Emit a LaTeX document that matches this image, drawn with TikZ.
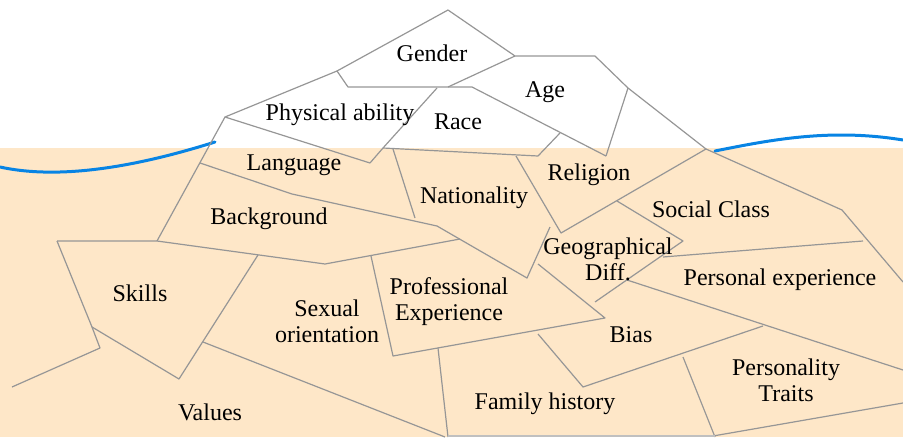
\documentclass[tikz,border=0pt]{standalone}
\usepackage{fontspec}
\setmainfont{Liberation Serif}
\definecolor{beige}{RGB}{254,231,200}
\definecolor{wave}{RGB}{8,132,228}
\definecolor{edge}{RGB}{150,150,150}
\tikzset{
  seg/.style={draw=edge, line width=1.2pt, line join=round},
  lbl/.style={font=\fontsize{24}{26}\selectfont, align=center, inner sep=0pt, text=black},
  sea/.style={draw=wave, line width=3pt, line cap=round}
}
\begin{document}
\begin{tikzpicture}[x=1pt,y=-1pt]
\useasboundingbox (0,0) rectangle (903,437);
\fill[beige] (0,148) rectangle (903,437);
% coordinates
\coordinate (A) at (448,10);
\coordinate (B) at (337,71);
\coordinate (C) at (515,56);
\coordinate (D) at (348,87);
\coordinate (E) at (437,88);
\coordinate (F) at (448,87);
\coordinate (G) at (472,87);
\coordinate (H) at (595,56);
\coordinate (I) at (628,88);
\coordinate (J) at (606,156);
\coordinate (K) at (706,149);
\coordinate (L) at (560,133);
\coordinate (M) at (538,156);
\coordinate (N) at (383,148);
\coordinate (O) at (370,163);
\coordinate (P) at (225,117);
\coordinate (Q) at (157,241);
\coordinate (R) at (200,163);
\coordinate (S) at (292,194);
\coordinate (T) at (437,226);
\coordinate (U) at (527,278);
\coordinate (V) at (550,227);
\coordinate (W) at (561,233);
\coordinate (X) at (842,210);
\coordinate (Y) at (617,201);
\coordinate (Z) at (683,241);
\coordinate (AA) at (595,302);
\coordinate (BB) at (325,264);
\coordinate (CC) at (460,239);
\coordinate (DD) at (605,318);
\coordinate (EE) at (393,356);
\coordinate (FF) at (371,256);
\coordinate (GG) at (92,327);
\coordinate (HH) at (100,348);
\coordinate (II) at (179,379);
\coordinate (JJ) at (258,255);
\coordinate (SK) at (57,241);
% waves
\draw[sea] (0,167) .. controls (50,178) and (120,172) .. (215,142);
\draw[sea] (715,151) .. controls (770,140) and (830,128) .. (903,140);
% top (white) pieces
\draw[seg] (B) -- (A) -- (C) -- (H) -- (I) -- (K);
\draw[seg] (B) -- (D) -- (G) -- (J);
\draw[seg] (C) -- (F);
\draw[seg] (I) -- (J);
\draw[seg] (L) -- (M) -- (N);
\draw[seg] (E) -- (N) -- (O);
\draw[seg] (B) -- (P) -- (O);
\draw[seg] (P) -- (Q);
% underwater pieces
\draw[seg] (R) -- (S) -- (T) -- (U) -- (V);
\draw[seg] (393,149) -- (415,218);
\draw[seg] (516,156) -- (W) -- (K) -- (X) -- (903,282);
\draw[seg] (Y) -- (Z) -- (AA);
\draw[seg] (663,257) -- (863,241);
\draw[seg] (SK) -- (Q) -- (BB) -- (CC);
\draw[seg] (538,264) -- (DD) -- (EE) -- (FF);
\draw[seg] (SK) -- (GG) -- (HH) -- (12,387);
\draw[seg] (GG) -- (II) -- (JJ);
\draw[seg] (203,342) -- (445,437);
\draw[seg] (438,348) -- (448,437);
\draw[seg] (538,334) -- (583,387) -- (763,326);
\draw[seg] (627,280) -- (903,370);
\draw[seg] (683,357) -- (715,437);
\draw[seg] (713,436) -- (903,403);
\draw[seg, draw=edge!60] (448,436) -- (715,436);
% labels
\node[lbl] (gender) at (432,53) {Gender};
\node[lbl] (age) at (545,92) {Age};
\node[lbl] (phys) at (340,115) {Physical ability};
\node[lbl] (race) at (458,122) {Race};
\node[lbl] (lang) at (294,165) {Language};
\node[lbl] (nat) at (474,198) {Nationality};
\node[lbl] (rel) at (589,175) {Religion};
\node[lbl] (soc) at (711,209) {Social Class};
\node[lbl] (bg) at (269,219) {Background};
\node[lbl] (geo) at (608,259) {Geographical\\Diff.};
\node[lbl] (skills) at (140,293) {Skills};
\node[lbl] (sex) at (327,321) {Sexual\\orientation};
\node[lbl] (prof) at (449,302) {Professional\\Experience};
\node[lbl] (pers) at (780,280) {Personal experience};
\node[lbl] (bias) at (631,335) {Bias};
\node[lbl] (trait) at (786,380) {Personality\\Traits};
\node[lbl] (val) at (210,412) {Values};
\node[lbl] (fam) at (545,404) {Family history};
\end{tikzpicture}
\end{document}
